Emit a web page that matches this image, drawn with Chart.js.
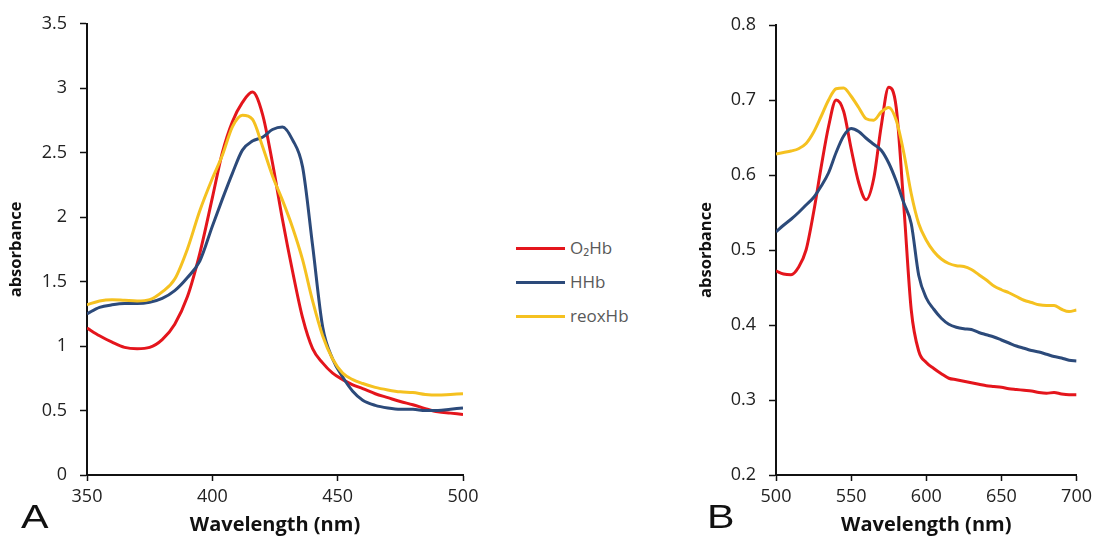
<!DOCTYPE html>
<html>
<head>
<meta charset="utf-8">
<script src="https://cdn.jsdelivr.net/npm/chart.js@4.4.1/dist/chart.umd.min.js"></script>
<style>
  html, body { margin: 0; padding: 0; background: #fff; }
  body { width: 1097px; height: 537px; position: relative; overflow: hidden;
         font-family: "Open Sans", "DejaVu Sans", sans-serif; }
  .box { position: absolute; top: 0; height: 537px; }
  #boxA { left: 0; width: 490px; }
  #boxB { left: 690px; width: 407px; }
  .panel { position: absolute; top: 498px; font-size: 33px; color: #111; transform-origin: left top;
           transform: scaleX(1.25); font-family: "Liberation Sans", Arial, sans-serif; }
  #legend { position: absolute; left: 516px; top: 235px; font-size: 17px; color: #595959; }
  #legend div { height: 34px; line-height: 26px; }
  #legend span.sw { display: inline-block; width: 49px; height: 3px; vertical-align: middle;
                    margin-right: 5px; position: relative; top: -1px; }
</style>
</head>
<body>
<div class="box" id="boxA"><canvas id="chartA"></canvas></div>
<div class="box" id="boxB"><canvas id="chartB"></canvas></div>
<div class="panel" style="left:21px">A</div>
<div class="panel" style="left:707px">B</div>
<div id="legend"></div>
<script>
'use strict';

// Soret band (panel A) and Q bands (panel B) of three hemoglobin forms.
var seriesNames = ['O\u2082Hb', 'HHb', 'reoxHb'];
var seriesColors = ['#e4151c', '#2c4a7a', '#f5c120'];

var wavelengthA = [350, 355, 360, 365, 370, 375, 380, 385, 390, 395, 400, 404, 408, 412, 416, 420,
  424, 428, 432, 436, 440, 444, 448, 452, 456, 460, 465, 470, 475, 480, 485, 490, 495, 500];
var o2hbA = [1.14, 1.08, 1.03, 0.99, 0.98, 0.99, 1.05, 1.17, 1.38, 1.72, 2.15, 2.50, 2.74, 2.89, 2.97, 2.80,
  2.42, 1.98, 1.58, 1.22, 0.98, 0.87, 0.79, 0.74, 0.70, 0.67, 0.63, 0.60, 0.57, 0.545, 0.515, 0.49, 0.48, 0.47];
var hhbA = [1.25, 1.30, 1.32, 1.33, 1.33, 1.34, 1.37, 1.43, 1.53, 1.66, 1.93, 2.14, 2.34, 2.52, 2.59, 2.62,
  2.68, 2.70, 2.60, 2.39, 1.78, 1.15, 0.90, 0.76, 0.65, 0.58, 0.54, 0.52, 0.51, 0.51, 0.50, 0.50, 0.51, 0.52];
var reoxA = [1.32, 1.35, 1.36, 1.355, 1.35, 1.36, 1.42, 1.52, 1.75, 2.05, 2.30, 2.48, 2.70, 2.79, 2.76, 2.55,
  2.32, 2.13, 1.92, 1.67, 1.35, 1.08, 0.90, 0.79, 0.74, 0.71, 0.68, 0.66, 0.645, 0.64, 0.625, 0.62, 0.625, 0.63];

var wavelengthB = [500, 505, 510, 515, 520, 525, 530, 535, 540, 545, 550, 555, 560, 565, 570, 575, 580,
  585, 590, 595, 600, 605, 610, 615, 620, 625, 630, 635, 640, 645, 650, 655, 660, 665, 670, 675, 680,
  685, 690, 695, 700];
var o2hbB = [0.472, 0.468, 0.467, 0.477, 0.50, 0.55, 0.61, 0.665, 0.70, 0.685, 0.635, 0.59, 0.567, 0.595,
  0.665, 0.717, 0.69, 0.56, 0.42, 0.365, 0.35, 0.342, 0.335, 0.329, 0.327, 0.325, 0.323, 0.321, 0.319,
  0.318, 0.317, 0.315, 0.314, 0.313, 0.312, 0.31, 0.309, 0.31, 0.308, 0.307, 0.307];
var hhbB = [0.524, 0.533, 0.541, 0.550, 0.560, 0.570, 0.585, 0.603, 0.630, 0.652, 0.662, 0.658, 0.649,
  0.641, 0.633, 0.616, 0.592, 0.563, 0.535, 0.466, 0.436, 0.421, 0.409, 0.401, 0.397, 0.395, 0.394,
  0.390, 0.387, 0.384, 0.380, 0.376, 0.372, 0.369, 0.366, 0.364, 0.361, 0.358, 0.356, 0.353, 0.352];
var reoxB = [0.628, 0.630, 0.632, 0.635, 0.642, 0.657, 0.678, 0.700, 0.715, 0.716, 0.705, 0.690, 0.675,
  0.673, 0.684, 0.690, 0.673, 0.630, 0.575, 0.535, 0.513, 0.498, 0.488, 0.482, 0.479, 0.478, 0.474,
  0.467, 0.460, 0.452, 0.447, 0.443, 0.438, 0.433, 0.430, 0.427, 0.426, 0.426, 0.421, 0.418, 0.420];

var xTicksA = [350, 400, 450, 500];
var yTicksA = [0, 0.5, 1, 1.5, 2, 2.5, 3, 3.5];
var xTicksB = [500, 550, 600, 650, 700];
var yTicksB = [0.2, 0.3, 0.4, 0.5, 0.6, 0.7, 0.8];

var family = '"Open Sans", "DejaVu Sans", sans-serif';
var tickFont = { family: family, size: 18 };
var titleFont = { family: family, size: 20, weight: 'bold' };

function points(xs, ys) {
  return xs.map(function (x, i) { return { x: x, y: ys[i] }; });
}

function fixedTicks(values) {
  return function (scale) {
    scale.ticks = values.map(function (v) { return { value: v }; });
  };
}

function makeChart(id, xs, ys, xTicks, yTicks, pad) {
  var datasets = ys.map(function (vals, i) {
    return {
      label: seriesNames[i],
      data: points(xs, vals),
      borderColor: seriesColors[i],
      borderWidth: 3,
      pointRadius: 0,
      cubicInterpolationMode: 'monotone',
    };
  });
  // draw yellow first, red last, like the original overlay order
  datasets = [datasets[2], datasets[1], datasets[0]];

  return new Chart(document.getElementById(id), {
    type: 'line',
    data: { datasets: datasets },
    options: {
      responsive: true,
      maintainAspectRatio: false,
      animation: false,
      layout: { padding: pad },
      plugins: { legend: { display: false }, tooltip: { enabled: false } },
      scales: {
        x: {
          type: 'linear',
          min: xTicks[0],
          max: xTicks[xTicks.length - 1],
          afterBuildTicks: fixedTicks(xTicks),
          afterFit: function (s) { s.height = 62; },
          border: { color: '#111', width: 2 },
          grid: { drawOnChartArea: false, tickLength: 6, color: '#111', tickWidth: 1.5 },
          ticks: { font: tickFont, color: '#222', padding: 5, maxRotation: 0 },
          title: { display: true, text: 'Wavelength (nm)', font: titleFont, color: '#111',
                   padding: { top: 0, bottom: 0 } },
        },
        y: {
          min: yTicks[0],
          max: yTicks[yTicks.length - 1],
          afterBuildTicks: fixedTicks(yTicks),
          afterFit: function (s) { s.width = pad.yWidth; },
          border: { color: '#111', width: 2 },
          grid: { drawOnChartArea: false, tickLength: 7, color: '#111', tickWidth: 1.5 },
          ticks: { font: tickFont, color: '#222', padding: 13,
                   callback: function (v) { return String(v); } },
          title: { display: true, text: 'absorbance', font: { family: family, size: 16.5, weight: 'bold' },
                   color: '#111', padding: { top: 6, bottom: 7 } },
        },
      },
    },
  });
}

makeChart('chartA', wavelengthA, [o2hbA, hhbA, reoxA], xTicksA, yTicksA,
  { top: 23, right: 27, bottom: 0, left: 0, yWidth: 87 });
makeChart('chartB', wavelengthB, [o2hbB, hhbB, reoxB], xTicksB, yTicksB,
  { top: 25, right: 19, bottom: 0, left: 0, yWidth: 86 });

// Shared legend between the two panels.
var legend = document.getElementById('legend');
seriesNames.forEach(function (name, i) {
  var row = document.createElement('div');
  var sw = document.createElement('span');
  sw.className = 'sw';
  sw.style.background = seriesColors[i];
  row.appendChild(sw);
  row.appendChild(document.createTextNode(name));
  legend.appendChild(row);
});
</script>
</body>
</html>
